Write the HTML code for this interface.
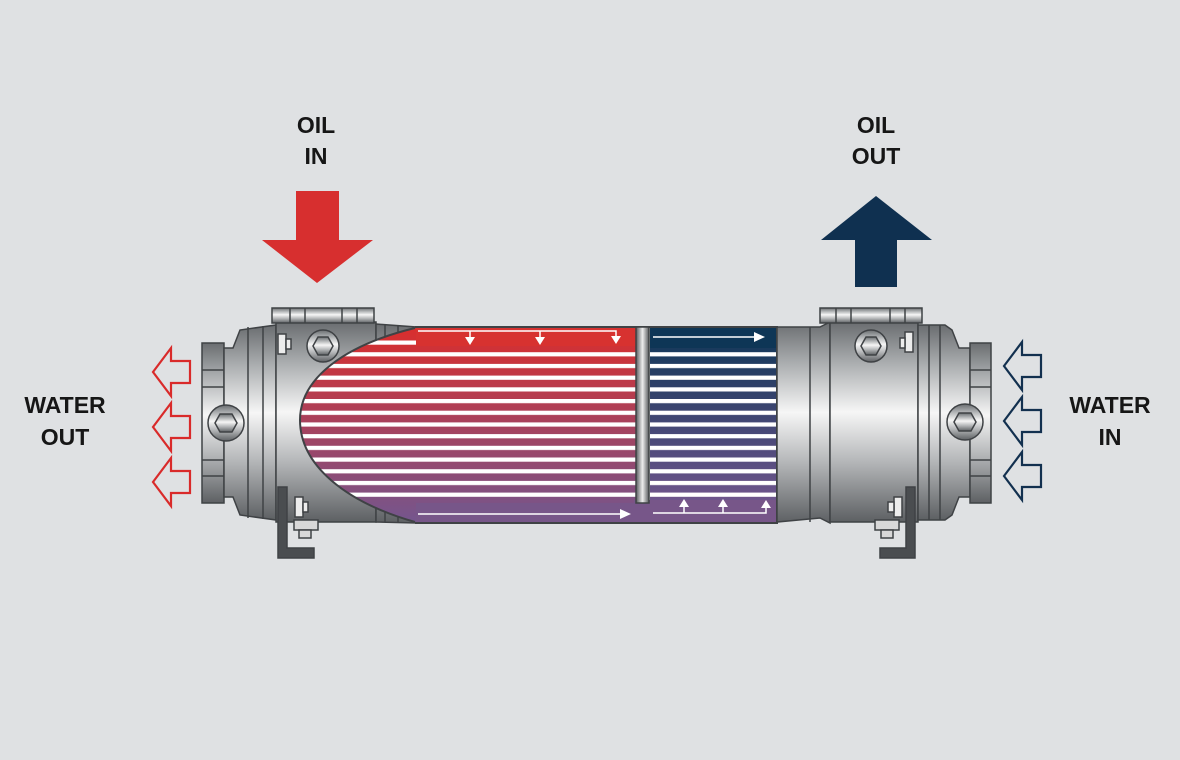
<!DOCTYPE html>
<html><head><meta charset="utf-8"><style>
html,body{margin:0;padding:0;background:#dfe1e3}
svg{display:block}
text{font-family:"Liberation Sans",sans-serif;font-weight:bold;fill:#161616;font-size:23px}
</style></head><body>
<svg width="1180" height="760" viewBox="0 0 1180 760" xmlns="http://www.w3.org/2000/svg">
<defs>
<linearGradient id="m" x1="0" y1="0" x2="0" y2="1">
<stop offset="0" stop-color="#6a6d70"/><stop offset="0.2" stop-color="#a9acae"/>
<stop offset="0.45" stop-color="#f6f6f6"/><stop offset="0.7" stop-color="#b4b6b8"/>
<stop offset="1" stop-color="#5d6063"/></linearGradient>
<linearGradient id="mh" x1="0" y1="0" x2="1" y2="0">
<stop offset="0" stop-color="#56595c"/><stop offset="0.5" stop-color="#eeeeee"/><stop offset="1" stop-color="#56595c"/></linearGradient>
<linearGradient id="rp" x1="0" y1="0" x2="0" y2="1">
<stop offset="0" stop-color="#d92e2d"/><stop offset="1" stop-color="#74568e"/></linearGradient>
<linearGradient id="bp" x1="0" y1="0" x2="0" y2="1">
<stop offset="0" stop-color="#0e3656"/><stop offset="1" stop-color="#7a5993"/></linearGradient>
<pattern id="st" x="0" y="340.5" width="10" height="11.7" patternUnits="userSpaceOnUse">
<rect x="0" y="0" width="10" height="4.2" fill="#fff"/></pattern>
<clipPath id="lc"><path d="M636,328 L415,328 C345,345 300,378 300,420 C300,465 345,502 415,522 L636,522Z"/></clipPath>
<clipPath id="rc"><path d="M650,328 L777,328 L777,348 C790,380 802,410 802,440 C802,465 790,485 777,498 L777,522 L650,522Z"/></clipPath>
</defs>

<text x="316" y="133" text-anchor="middle">OIL</text>
<text x="316" y="164" text-anchor="middle">IN</text>
<text x="876" y="133" text-anchor="middle">OIL</text>
<text x="876" y="164" text-anchor="middle">OUT</text>
<text x="65" y="413" text-anchor="middle">WATER</text>
<text x="65" y="445" text-anchor="middle">OUT</text>
<text x="1110" y="413" text-anchor="middle">WATER</text>
<text x="1110" y="445" text-anchor="middle">IN</text>

<polygon points="296,191 339,191 339,240 373,240 317,283 262,240 296,240" fill="#d72f2f"/>
<polygon points="876,196 932,240 897,240 897,287 855,287 855,240 821,240" fill="#0f3050"/>

<g fill="none" stroke="#d92a2a" stroke-width="2.2">
<polygon points="153,372 171,348 171,361 190,361 190,383 171,383 171,396"/>
<polygon points="153,427 171,403 171,416 190,416 190,438 171,438 171,451"/>
<polygon points="153,482 171,458 171,471 190,471 190,493 171,493 171,506"/>
</g>
<g fill="none" stroke="#12304f" stroke-width="2.2">
<polygon points="1004,366 1022,342 1022,355 1041,355 1041,377 1022,377 1022,390"/>
<polygon points="1004,421 1022,397 1022,410 1041,410 1041,432 1022,432 1022,445"/>
<polygon points="1004,476 1022,452 1022,465 1041,465 1041,487 1022,487 1022,500"/>
</g>

<g stroke="#3f4245" stroke-width="1.5">
<rect x="202" y="343" width="22" height="160" fill="url(#m)"/>
<line x1="202" y1="370" x2="224" y2="370"/><line x1="202" y1="387" x2="224" y2="387"/>
<line x1="202" y1="460" x2="224" y2="460"/><line x1="202" y1="476" x2="224" y2="476"/>
<path d="M224,348 L233,348 L240,330 L276,325 L276,520 L240,515 L233,497 L224,497Z" fill="url(#m)"/>
<line x1="248" y1="327" x2="248" y2="518"/><line x1="263" y1="326" x2="263" y2="519"/>
<rect x="276" y="322" width="100" height="200" fill="url(#m)"/>
<rect x="272" y="308" width="102" height="15" fill="url(#m)"/>
<line x1="290" y1="308" x2="290" y2="323"/><line x1="305" y1="308" x2="305" y2="323"/><line x1="342" y1="308" x2="342" y2="323"/><line x1="357" y1="308" x2="357" y2="323"/>
<path d="M376,324 L416,327 L416,523 L376,522Z" fill="url(#m)"/>
<line x1="385" y1="325" x2="385" y2="522"/><line x1="398" y1="326" x2="398" y2="522"/>
</g>
<g clip-path="url(#lc)">
<rect x="290" y="328" width="350" height="195" fill="url(#rp)"/>
<rect x="290" y="338" width="350" height="162" fill="url(#st)"/>
<rect x="416" y="328" width="222" height="18" fill="#d73230"/>
<rect x="416" y="503" width="222" height="20" fill="#775689"/>
</g>
<path d="M415,328 C345,345 300,378 300,420 C300,465 345,502 415,522" fill="none" stroke="#3f4245" stroke-width="2"/>
<g clip-path="url(#rc)">
<rect x="645" y="328" width="170" height="195" fill="url(#bp)"/>
<rect x="645" y="338" width="170" height="162" fill="url(#st)"/>
<rect x="650" y="328" width="128" height="20" fill="#0e3656"/>
<rect x="650" y="500" width="128" height="23" fill="#775689"/>
</g>
<rect x="634" y="500" width="18" height="22" fill="#775689"/>
<path d="M777,348 C790,380 802,410 802,440 C802,465 790,485 777,498" fill="none" stroke="#3f4245" stroke-width="2"/>
<path d="M415,327 L777,327 L777,523 L415,523" fill="none" stroke="#3f4245" stroke-width="2"/>
<rect x="636" y="327" width="13" height="176" fill="url(#mh)" stroke="#3f4245" stroke-width="1.5"/>

<g stroke="#fff" stroke-width="1.5" fill="#fff">
<polyline points="418,331 616,331 616,336" fill="none"/>
<line x1="470" y1="331" x2="470" y2="337"/><line x1="540" y1="331" x2="540" y2="337"/>
<polygon points="465,337 475,337 470,345" stroke="none"/><polygon points="535,337 545,337 540,345" stroke="none"/><polygon points="611,336 621,336 616,344" stroke="none"/>
<line x1="418" y1="514" x2="622" y2="514"/><polygon points="620,509 631,514 620,519" stroke="none"/>
<line x1="653" y1="337" x2="756" y2="337"/><polygon points="754,332 765,337 754,342" stroke="none"/>
<polyline points="653,513 766,513 766,508" fill="none"/>
<line x1="684" y1="513" x2="684" y2="506"/><line x1="723" y1="513" x2="723" y2="506"/>
<polygon points="679,507 689,507 684,499" stroke="none"/><polygon points="718,507 728,507 723,499" stroke="none"/><polygon points="761,508 771,508 766,500" stroke="none"/>
</g>

<g stroke="#3f4245" stroke-width="1.5">
<path d="M777,327 L820,327 L830,322 L830,523 L820,518 L777,522Z" fill="url(#m)"/>
<line x1="810" y1="327" x2="810" y2="522"/>
<rect x="830" y="322" width="88" height="200" fill="url(#m)"/>
<rect x="820" y="308" width="102" height="15" fill="url(#m)"/>
<line x1="836" y1="308" x2="836" y2="323"/><line x1="851" y1="308" x2="851" y2="323"/><line x1="890" y1="308" x2="890" y2="323"/><line x1="905" y1="308" x2="905" y2="323"/>
<path d="M918,325 L945,325 L952,330 L959,348 L970,348 L970,497 L959,497 L952,515 L945,520 L918,520Z" fill="url(#m)"/>
<line x1="929" y1="325" x2="929" y2="520"/><line x1="940" y1="325" x2="940" y2="520"/>
<rect x="970" y="343" width="21" height="160" fill="url(#m)"/>
<line x1="970" y1="370" x2="991" y2="370"/><line x1="970" y1="387" x2="991" y2="387"/>
<line x1="970" y1="460" x2="991" y2="460"/><line x1="970" y1="476" x2="991" y2="476"/>
</g>

<g stroke="#3f4245" stroke-width="1.5">
<circle cx="323" cy="346" r="16" fill="url(#m)"/><polygon points="313,346 318,337 328,337 333,346 328,355 318,355" fill="url(#m)"/>
<circle cx="226" cy="423" r="18" fill="url(#m)"/><polygon points="215,423 220,414 232,414 237,423 232,432 220,432" fill="url(#m)"/>
<circle cx="871" cy="346" r="16" fill="url(#m)"/><polygon points="861,346 866,337 876,337 881,346 876,355 866,355" fill="url(#m)"/>
<circle cx="965" cy="422" r="18" fill="url(#m)"/><polygon points="954,422 959,413 971,413 976,422 971,431 959,431" fill="url(#m)"/>
<rect x="278" y="334" width="8" height="20" fill="#ececec"/><rect x="286" y="339" width="5" height="10" fill="#ececec"/>
<rect x="905" y="332" width="8" height="20" fill="#ececec"/><rect x="900" y="338" width="5" height="10" fill="#ececec"/>
<path d="M278,487 L287,487 L287,548 L314,548 L314,558 L278,558Z" fill="#4a4d50"/>
<rect x="295" y="497" width="8" height="20" fill="#ececec"/><rect x="303" y="502" width="5" height="10" fill="#ececec"/>
<rect x="294" y="520" width="24" height="10" fill="#d8d8d8"/><rect x="299" y="530" width="12" height="8" fill="#d8d8d8"/>
<path d="M906,487 L915,487 L915,558 L880,558 L880,548 L906,548Z" fill="#4a4d50"/>
<rect x="894" y="497" width="8" height="20" fill="#ececec"/><rect x="888" y="502" width="6" height="10" fill="#ececec"/>
<rect x="875" y="520" width="24" height="10" fill="#d8d8d8"/><rect x="881" y="530" width="12" height="8" fill="#d8d8d8"/>
</g>
</svg>
</body></html>
